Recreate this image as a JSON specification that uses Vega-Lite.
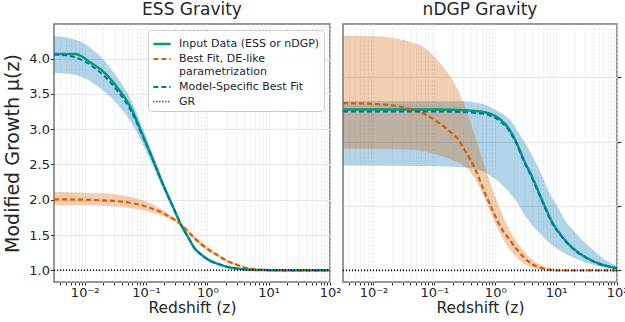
{
  "$schema": "https://vega.github.io/schema/vega-lite/v6.json",
  "padding": {"left": 3, "top": 0, "right": 0, "bottom": 5},
  "config": {
    "font": "DejaVu Sans",
    "view": {"stroke": "#777777", "strokeWidth": 1.5},
    "axis": {"labelFont": "DejaVu Sans", "titleFont": "DejaVu Sans", "labelFontSize": 13, "titleFontSize": 15.5, "labelColor": "#262626", "titleColor": "#262626", "tickColor": "#333333", "tickWidth": 1, "gridColor": "#e6e6e6", "domain": false, "titleFontWeight": "normal"},
    "title": {"fontSize": 17, "fontWeight": "normal", "color": "#262626", "offset": 5, "font": "DejaVu Sans"},
    "legend": {"labelFont": "DejaVu Sans"}
  },
  "datasets": {
    "essLines": [
      {"z": 0.00316, "mu": 4.065, "s": "Input Data (ESS or nDGP)"},
      {"z": 0.0069, "mu": 4.065, "s": "Input Data (ESS or nDGP)"},
      {"z": 0.0126, "mu": 3.94, "s": "Input Data (ESS or nDGP)"},
      {"z": 0.021, "mu": 3.80, "s": "Input Data (ESS or nDGP)"},
      {"z": 0.0344, "mu": 3.584, "s": "Input Data (ESS or nDGP)"},
      {"z": 0.0568, "mu": 3.30, "s": "Input Data (ESS or nDGP)"},
      {"z": 0.085, "mu": 2.95, "s": "Input Data (ESS or nDGP)"},
      {"z": 0.12, "mu": 2.64, "s": "Input Data (ESS or nDGP)"},
      {"z": 0.2, "mu": 2.17, "s": "Input Data (ESS or nDGP)"},
      {"z": 0.28, "mu": 1.886, "s": "Input Data (ESS or nDGP)"},
      {"z": 0.37, "mu": 1.65, "s": "Input Data (ESS or nDGP)"},
      {"z": 0.5, "mu": 1.45, "s": "Input Data (ESS or nDGP)"},
      {"z": 0.61, "mu": 1.32, "s": "Input Data (ESS or nDGP)"},
      {"z": 0.8, "mu": 1.22, "s": "Input Data (ESS or nDGP)"},
      {"z": 1.146, "mu": 1.13, "s": "Input Data (ESS or nDGP)"},
      {"z": 1.5, "mu": 1.09, "s": "Input Data (ESS or nDGP)"},
      {"z": 2.14, "mu": 1.047, "s": "Input Data (ESS or nDGP)"},
      {"z": 3, "mu": 1.025, "s": "Input Data (ESS or nDGP)"},
      {"z": 4, "mu": 1.014, "s": "Input Data (ESS or nDGP)"},
      {"z": 6, "mu": 1.005, "s": "Input Data (ESS or nDGP)"},
      {"z": 10, "mu": 1.002, "s": "Input Data (ESS or nDGP)"},
      {"z": 30, "mu": 1.0, "s": "Input Data (ESS or nDGP)"},
      {"z": 100, "mu": 1.0, "s": "Input Data (ESS or nDGP)"},
      {"z": 0.00316, "mu": 2.005, "s": "Best Fit, DE-like parametrization"},
      {"z": 0.01, "mu": 2.0, "s": "Best Fit, DE-like parametrization"},
      {"z": 0.02, "mu": 1.99, "s": "Best Fit, DE-like parametrization"},
      {"z": 0.035, "mu": 1.978, "s": "Best Fit, DE-like parametrization"},
      {"z": 0.06, "mu": 1.95, "s": "Best Fit, DE-like parametrization"},
      {"z": 0.09, "mu": 1.915, "s": "Best Fit, DE-like parametrization"},
      {"z": 0.12, "mu": 1.88, "s": "Best Fit, DE-like parametrization"},
      {"z": 0.17, "mu": 1.83, "s": "Best Fit, DE-like parametrization"},
      {"z": 0.225, "mu": 1.775, "s": "Best Fit, DE-like parametrization"},
      {"z": 0.3, "mu": 1.71, "s": "Best Fit, DE-like parametrization"},
      {"z": 0.37, "mu": 1.65, "s": "Best Fit, DE-like parametrization"},
      {"z": 0.48, "mu": 1.55, "s": "Best Fit, DE-like parametrization"},
      {"z": 0.61, "mu": 1.46, "s": "Best Fit, DE-like parametrization"},
      {"z": 0.8, "mu": 1.37, "s": "Best Fit, DE-like parametrization"},
      {"z": 1.146, "mu": 1.27, "s": "Best Fit, DE-like parametrization"},
      {"z": 1.5, "mu": 1.21, "s": "Best Fit, DE-like parametrization"},
      {"z": 2.14, "mu": 1.13, "s": "Best Fit, DE-like parametrization"},
      {"z": 3, "mu": 1.08, "s": "Best Fit, DE-like parametrization"},
      {"z": 3.5, "mu": 1.057, "s": "Best Fit, DE-like parametrization"},
      {"z": 5.2, "mu": 1.02, "s": "Best Fit, DE-like parametrization"},
      {"z": 7, "mu": 1.008, "s": "Best Fit, DE-like parametrization"},
      {"z": 10, "mu": 1.003, "s": "Best Fit, DE-like parametrization"},
      {"z": 20, "mu": 1.0, "s": "Best Fit, DE-like parametrization"},
      {"z": 100, "mu": 1.0, "s": "Best Fit, DE-like parametrization"},
      {"z": 0.00316, "mu": 4.055, "s": "Model-Specific Best Fit"},
      {"z": 0.005, "mu": 4.045, "s": "Model-Specific Best Fit"},
      {"z": 0.0069, "mu": 4.02, "s": "Model-Specific Best Fit"},
      {"z": 0.01, "mu": 3.96, "s": "Model-Specific Best Fit"},
      {"z": 0.0143, "mu": 3.87, "s": "Model-Specific Best Fit"},
      {"z": 0.021, "mu": 3.75, "s": "Model-Specific Best Fit"},
      {"z": 0.0344, "mu": 3.54, "s": "Model-Specific Best Fit"},
      {"z": 0.0568, "mu": 3.26, "s": "Model-Specific Best Fit"},
      {"z": 0.085, "mu": 2.93, "s": "Model-Specific Best Fit"},
      {"z": 0.12, "mu": 2.63, "s": "Model-Specific Best Fit"},
      {"z": 0.2, "mu": 2.165, "s": "Model-Specific Best Fit"},
      {"z": 0.28, "mu": 1.88, "s": "Model-Specific Best Fit"},
      {"z": 0.37, "mu": 1.65, "s": "Model-Specific Best Fit"},
      {"z": 0.5, "mu": 1.45, "s": "Model-Specific Best Fit"},
      {"z": 0.61, "mu": 1.32, "s": "Model-Specific Best Fit"},
      {"z": 0.8, "mu": 1.22, "s": "Model-Specific Best Fit"},
      {"z": 1.146, "mu": 1.13, "s": "Model-Specific Best Fit"},
      {"z": 1.5, "mu": 1.09, "s": "Model-Specific Best Fit"},
      {"z": 2.14, "mu": 1.047, "s": "Model-Specific Best Fit"},
      {"z": 3, "mu": 1.025, "s": "Model-Specific Best Fit"},
      {"z": 4, "mu": 1.014, "s": "Model-Specific Best Fit"},
      {"z": 6, "mu": 1.005, "s": "Model-Specific Best Fit"},
      {"z": 10, "mu": 1.002, "s": "Model-Specific Best Fit"},
      {"z": 30, "mu": 1.0, "s": "Model-Specific Best Fit"},
      {"z": 100, "mu": 1.0, "s": "Model-Specific Best Fit"},
      {"z": 0.00316, "mu": 1.0, "s": "GR"},
      {"z": 100, "mu": 1.0, "s": "GR"}
    ],
    "essBands": [
      {"z": 0.00316, "lo": 3.80, "hi": 4.32, "b": "blue"},
      {"z": 0.005, "lo": 3.79, "hi": 4.30, "b": "blue"},
      {"z": 0.0069, "lo": 3.77, "hi": 4.27, "b": "blue"},
      {"z": 0.01, "lo": 3.72, "hi": 4.21, "b": "blue"},
      {"z": 0.0143, "lo": 3.64, "hi": 4.11, "b": "blue"},
      {"z": 0.021, "lo": 3.53, "hi": 3.97, "b": "blue"},
      {"z": 0.0344, "lo": 3.35, "hi": 3.73, "b": "blue"},
      {"z": 0.0568, "lo": 3.10, "hi": 3.42, "b": "blue"},
      {"z": 0.085, "lo": 2.82, "hi": 3.05, "b": "blue"},
      {"z": 0.12, "lo": 2.54, "hi": 2.72, "b": "blue"},
      {"z": 0.2, "lo": 2.11, "hi": 2.22, "b": "blue"},
      {"z": 0.28, "lo": 1.85, "hi": 1.91, "b": "blue"},
      {"z": 0.37, "lo": 1.63, "hi": 1.67, "b": "blue"},
      {"z": 0.5, "lo": 1.43, "hi": 1.47, "b": "blue"},
      {"z": 0.61, "lo": 1.30, "hi": 1.345, "b": "blue"},
      {"z": 0.8, "lo": 1.20, "hi": 1.24, "b": "blue"},
      {"z": 1.146, "lo": 1.11, "hi": 1.15, "b": "blue"},
      {"z": 1.5, "lo": 1.075, "hi": 1.105, "b": "blue"},
      {"z": 2.14, "lo": 1.037, "hi": 1.058, "b": "blue"},
      {"z": 3, "lo": 1.018, "hi": 1.032, "b": "blue"},
      {"z": 4, "lo": 1.009, "hi": 1.02, "b": "blue"},
      {"z": 6, "lo": 1.002, "hi": 1.008, "b": "blue"},
      {"z": 10, "lo": 1.0, "hi": 1.004, "b": "blue"},
      {"z": 30, "lo": 1.0, "hi": 1.0, "b": "blue"},
      {"z": 100, "lo": 1.0, "hi": 1.0, "b": "blue"},
      {"z": 0.00316, "lo": 1.925, "hi": 2.108, "b": "orange"},
      {"z": 0.01, "lo": 1.92, "hi": 2.10, "b": "orange"},
      {"z": 0.02, "lo": 1.912, "hi": 2.09, "b": "orange"},
      {"z": 0.035, "lo": 1.90, "hi": 2.07, "b": "orange"},
      {"z": 0.06, "lo": 1.875, "hi": 2.035, "b": "orange"},
      {"z": 0.09, "lo": 1.85, "hi": 1.99, "b": "orange"},
      {"z": 0.12, "lo": 1.82, "hi": 1.945, "b": "orange"},
      {"z": 0.17, "lo": 1.785, "hi": 1.88, "b": "orange"},
      {"z": 0.225, "lo": 1.74, "hi": 1.81, "b": "orange"},
      {"z": 0.3, "lo": 1.685, "hi": 1.735, "b": "orange"},
      {"z": 0.37, "lo": 1.63, "hi": 1.67, "b": "orange"},
      {"z": 0.48, "lo": 1.525, "hi": 1.575, "b": "orange"},
      {"z": 0.61, "lo": 1.43, "hi": 1.49, "b": "orange"},
      {"z": 0.8, "lo": 1.335, "hi": 1.40, "b": "orange"},
      {"z": 1.146, "lo": 1.24, "hi": 1.30, "b": "orange"},
      {"z": 1.5, "lo": 1.18, "hi": 1.225, "b": "orange"},
      {"z": 2.14, "lo": 1.11, "hi": 1.15, "b": "orange"},
      {"z": 3, "lo": 1.06, "hi": 1.09, "b": "orange"},
      {"z": 3.5, "lo": 1.045, "hi": 1.07, "b": "orange"},
      {"z": 5.2, "lo": 1.012, "hi": 1.028, "b": "orange"},
      {"z": 7, "lo": 1.003, "hi": 1.012, "b": "orange"},
      {"z": 10, "lo": 1.0, "hi": 1.004, "b": "orange"},
      {"z": 20, "lo": 1.0, "hi": 1.0, "b": "orange"},
      {"z": 100, "lo": 1.0, "hi": 1.0, "b": "orange"}
    ],
    "ndgpLines": [
      {"z": 0.00316, "mu": 1.25, "s": "Input Data (ESS or nDGP)"},
      {"z": 0.1, "mu": 1.25, "s": "Input Data (ESS or nDGP)"},
      {"z": 0.3, "mu": 1.249, "s": "Input Data (ESS or nDGP)"},
      {"z": 0.5, "mu": 1.2475, "s": "Input Data (ESS or nDGP)"},
      {"z": 0.66, "mu": 1.246, "s": "Input Data (ESS or nDGP)"},
      {"z": 1.0, "mu": 1.24, "s": "Input Data (ESS or nDGP)"},
      {"z": 1.3, "mu": 1.232, "s": "Input Data (ESS or nDGP)"},
      {"z": 1.64, "mu": 1.2215, "s": "Input Data (ESS or nDGP)"},
      {"z": 2.2, "mu": 1.20, "s": "Input Data (ESS or nDGP)"},
      {"z": 3.0, "mu": 1.17, "s": "Input Data (ESS or nDGP)"},
      {"z": 4.0, "mu": 1.146, "s": "Input Data (ESS or nDGP)"},
      {"z": 5.1, "mu": 1.123, "s": "Input Data (ESS or nDGP)"},
      {"z": 6.5, "mu": 1.10, "s": "Input Data (ESS or nDGP)"},
      {"z": 8.3, "mu": 1.078, "s": "Input Data (ESS or nDGP)"},
      {"z": 12, "mu": 1.055, "s": "Input Data (ESS or nDGP)"},
      {"z": 19.8, "mu": 1.033, "s": "Input Data (ESS or nDGP)"},
      {"z": 30, "mu": 1.021, "s": "Input Data (ESS or nDGP)"},
      {"z": 54.7, "mu": 1.0095, "s": "Input Data (ESS or nDGP)"},
      {"z": 100, "mu": 1.0036, "s": "Input Data (ESS or nDGP)"},
      {"z": 0.00316, "mu": 1.260, "s": "Best Fit, DE-like parametrization"},
      {"z": 0.0105, "mu": 1.2587, "s": "Best Fit, DE-like parametrization"},
      {"z": 0.0375, "mu": 1.2516, "s": "Best Fit, DE-like parametrization"},
      {"z": 0.069, "mu": 1.243, "s": "Best Fit, DE-like parametrization"},
      {"z": 0.13, "mu": 1.2267, "s": "Best Fit, DE-like parametrization"},
      {"z": 0.19, "mu": 1.214, "s": "Best Fit, DE-like parametrization"},
      {"z": 0.25, "mu": 1.2035, "s": "Best Fit, DE-like parametrization"},
      {"z": 0.31, "mu": 1.188, "s": "Best Fit, DE-like parametrization"},
      {"z": 0.38, "mu": 1.174, "s": "Best Fit, DE-like parametrization"},
      {"z": 0.46, "mu": 1.159, "s": "Best Fit, DE-like parametrization"},
      {"z": 0.55, "mu": 1.142, "s": "Best Fit, DE-like parametrization"},
      {"z": 0.66, "mu": 1.123, "s": "Best Fit, DE-like parametrization"},
      {"z": 0.8, "mu": 1.105, "s": "Best Fit, DE-like parametrization"},
      {"z": 0.97, "mu": 1.087, "s": "Best Fit, DE-like parametrization"},
      {"z": 1.25, "mu": 1.066, "s": "Best Fit, DE-like parametrization"},
      {"z": 1.64, "mu": 1.0506, "s": "Best Fit, DE-like parametrization"},
      {"z": 2.2, "mu": 1.034, "s": "Best Fit, DE-like parametrization"},
      {"z": 3.0, "mu": 1.0196, "s": "Best Fit, DE-like parametrization"},
      {"z": 4.0, "mu": 1.01, "s": "Best Fit, DE-like parametrization"},
      {"z": 5.7, "mu": 1.004, "s": "Best Fit, DE-like parametrization"},
      {"z": 8, "mu": 1.001, "s": "Best Fit, DE-like parametrization"},
      {"z": 10.8, "mu": 1.0, "s": "Best Fit, DE-like parametrization"},
      {"z": 100, "mu": 1.0, "s": "Best Fit, DE-like parametrization"},
      {"z": 0.00316, "mu": 1.247, "s": "Model-Specific Best Fit"},
      {"z": 0.1, "mu": 1.247, "s": "Model-Specific Best Fit"},
      {"z": 0.3, "mu": 1.246, "s": "Model-Specific Best Fit"},
      {"z": 0.66, "mu": 1.243, "s": "Model-Specific Best Fit"},
      {"z": 1.0, "mu": 1.237, "s": "Model-Specific Best Fit"},
      {"z": 1.3, "mu": 1.229, "s": "Model-Specific Best Fit"},
      {"z": 1.64, "mu": 1.219, "s": "Model-Specific Best Fit"},
      {"z": 2.2, "mu": 1.198, "s": "Model-Specific Best Fit"},
      {"z": 3.0, "mu": 1.168, "s": "Model-Specific Best Fit"},
      {"z": 4.0, "mu": 1.144, "s": "Model-Specific Best Fit"},
      {"z": 5.1, "mu": 1.121, "s": "Model-Specific Best Fit"},
      {"z": 6.5, "mu": 1.098, "s": "Model-Specific Best Fit"},
      {"z": 8.3, "mu": 1.076, "s": "Model-Specific Best Fit"},
      {"z": 12, "mu": 1.054, "s": "Model-Specific Best Fit"},
      {"z": 19.8, "mu": 1.032, "s": "Model-Specific Best Fit"},
      {"z": 30, "mu": 1.0205, "s": "Model-Specific Best Fit"},
      {"z": 54.7, "mu": 1.0092, "s": "Model-Specific Best Fit"},
      {"z": 100, "mu": 1.0035, "s": "Model-Specific Best Fit"},
      {"z": 0.00316, "mu": 1.0, "s": "GR"},
      {"z": 100, "mu": 1.0, "s": "GR"}
    ],
    "ndgpBands": [
      {"z": 0.00316, "lo": 1.163, "hi": 1.263, "b": "blue"},
      {"z": 0.13, "lo": 1.162, "hi": 1.263, "b": "blue"},
      {"z": 0.3, "lo": 1.16, "hi": 1.263, "b": "blue"},
      {"z": 0.46, "lo": 1.158, "hi": 1.261, "b": "blue"},
      {"z": 0.66, "lo": 1.153, "hi": 1.258, "b": "blue"},
      {"z": 0.87, "lo": 1.146, "hi": 1.253, "b": "blue"},
      {"z": 1.2, "lo": 1.136, "hi": 1.246, "b": "blue"},
      {"z": 1.64, "lo": 1.123, "hi": 1.237, "b": "blue"},
      {"z": 2.3, "lo": 1.105, "hi": 1.218, "b": "blue"},
      {"z": 3.0, "lo": 1.087, "hi": 1.200, "b": "blue"},
      {"z": 3.5, "lo": 1.078, "hi": 1.190, "b": "blue"},
      {"z": 4.5, "lo": 1.065, "hi": 1.170, "b": "blue"},
      {"z": 5.7, "lo": 1.056, "hi": 1.150, "b": "blue"},
      {"z": 7.5, "lo": 1.044, "hi": 1.123, "b": "blue"},
      {"z": 10.8, "lo": 1.0326, "hi": 1.097, "b": "blue"},
      {"z": 14, "lo": 1.026, "hi": 1.078, "b": "blue"},
      {"z": 19.8, "lo": 1.0196, "hi": 1.061, "b": "blue"},
      {"z": 27, "lo": 1.014, "hi": 1.047, "b": "blue"},
      {"z": 37.5, "lo": 1.010, "hi": 1.035, "b": "blue"},
      {"z": 60, "lo": 1.005, "hi": 1.018, "b": "blue"},
      {"z": 100, "lo": 1.002, "hi": 1.0067, "b": "blue"},
      {"z": 0.00316, "lo": 1.1895, "hi": 1.365, "b": "orange"},
      {"z": 0.0105, "lo": 1.189, "hi": 1.364, "b": "orange"},
      {"z": 0.0375, "lo": 1.188, "hi": 1.356, "b": "orange"},
      {"z": 0.069, "lo": 1.185, "hi": 1.346, "b": "orange"},
      {"z": 0.13, "lo": 1.178, "hi": 1.320, "b": "orange"},
      {"z": 0.19, "lo": 1.172, "hi": 1.299, "b": "orange"},
      {"z": 0.28, "lo": 1.165, "hi": 1.268, "b": "orange"},
      {"z": 0.35, "lo": 1.158, "hi": 1.245, "b": "orange"},
      {"z": 0.41, "lo": 1.15, "hi": 1.225, "b": "orange"},
      {"z": 0.5, "lo": 1.138, "hi": 1.20, "b": "orange"},
      {"z": 0.6, "lo": 1.122, "hi": 1.175, "b": "orange"},
      {"z": 0.77, "lo": 1.098, "hi": 1.145, "b": "orange"},
      {"z": 0.87, "lo": 1.086, "hi": 1.13, "b": "orange"},
      {"z": 1.1, "lo": 1.065, "hi": 1.105, "b": "orange"},
      {"z": 1.41, "lo": 1.045, "hi": 1.08, "b": "orange"},
      {"z": 2.0, "lo": 1.025, "hi": 1.052, "b": "orange"},
      {"z": 2.7, "lo": 1.013, "hi": 1.035, "b": "orange"},
      {"z": 3.9, "lo": 1.005, "hi": 1.018, "b": "orange"},
      {"z": 6.4, "lo": 1.001, "hi": 1.006, "b": "orange"},
      {"z": 10, "lo": 1.0, "hi": 1.002, "b": "orange"},
      {"z": 17, "lo": 1.0, "hi": 1.0, "b": "orange"},
      {"z": 100, "lo": 1.0, "hi": 1.0, "b": "orange"}
    ]
  },
  "spacing": 13,
  "bounds": "flush",
  "resolve": {
    "scale": {"color": "independent", "strokeDash": "independent", "strokeWidth": "independent", "fill": "independent"},
    "legend": {"color": "independent", "strokeDash": "independent", "strokeWidth": "independent"}
  },
  "hconcat": [
    {
      "width": 276,
      "height": 258,
      "title": "ESS Gravity",
      "layer": [
        {
          "data": {"name": "essBands"},
          "mark": {"type": "area", "interpolate": "monotone", "fillOpacity": 0.3},
          "encoding": {
            "x": {"field": "z", "type": "quantitative", "scale": {"type": "log", "domain": [0.00316, 100], "nice": false},
              "axis": {"title": "Redshift (z)", "values": [0.004,0.005,0.006,0.007,0.008,0.009,0.01,0.02,0.03,0.04,0.05,0.06,0.07,0.08,0.09,0.1,0.2,0.3,0.4,0.5,0.6,0.7,0.8,0.9,1,2,3,4,5,6,7,8,9,10,20,30,40,50,60,70,80,90,100],
                "labelExpr": "datum.value == 0.01 ? '10⁻²' : datum.value == 0.1 ? '10⁻¹' : datum.value == 1 ? '10⁰' : datum.value == 10 ? '10¹' : datum.value == 100 ? '10²' : ''",
                "labelOverlap": false, "labelFlush": false, "tickSize": 3, "labelPadding": 1, "titlePadding": 1, "grid": true, "gridDash": [2, 2]}},
            "y": {"field": "lo", "type": "quantitative", "scale": {"domain": [0.834, 4.49], "nice": false, "zero": false},
              "axis": {"title": "Modified Growth μ(z)", "titleFontSize": 19, "values": [1, 1.5, 2, 2.5, 3, 3.5, 4], "format": ".1f", "tickSize": 3.5, "labelPadding": 1, "titlePadding": 6, "grid": true}},
            "y2": {"field": "hi"},
            "fill": {"field": "b", "type": "nominal", "scale": {"domain": ["blue", "orange"], "range": ["#0072B2", "#D55E00"]}, "legend": null}
          }
        },
        {
          "data": {"name": "essLines"},
          "mark": {"type": "line", "interpolate": "monotone"},
          "encoding": {
            "x": {"field": "z", "type": "quantitative"},
            "y": {"field": "mu", "type": "quantitative"},
            "color": {"field": "s", "type": "nominal",
              "scale": {"domain": ["Input Data (ESS or nDGP)", "Best Fit, DE-like parametrization", "Model-Specific Best Fit", "GR"], "range": ["#009E73", "#D55E00", "#0072B2", "#000000"]},
              "legend": {"orient": "top-right", "offset": 6, "title": null, "symbolType": "stroke", "symbolSize": 300, "labelFontSize": 11, "labelColor": "#262626", "labelLimit": 300, "labelOffset": 7,
                "labelExpr": "datum.label == 'Best Fit, DE-like parametrization' ? ['Best Fit, DE-like', ' parametrization'] : datum.label",
                "strokeColor": "#cccccc", "fillColor": "rgba(255,255,255,0.85)", "padding": 4, "rowPadding": 0, "cornerRadius": 3}},
            "strokeDash": {"field": "s", "type": "nominal",
              "scale": {"domain": ["Input Data (ESS or nDGP)", "Best Fit, DE-like parametrization", "Model-Specific Best Fit", "GR"], "range": [[1, 0], [5, 3], [5, 3], [1, 2]]}},
            "strokeWidth": {"field": "s", "type": "nominal",
              "scale": {"domain": ["Input Data (ESS or nDGP)", "Best Fit, DE-like parametrization", "Model-Specific Best Fit", "GR"], "range": [2.5, 1.6, 1.6, 1.1]}}
          }
        }
      ]
    },
    {
      "width": 274,
      "height": 258,
      "title": "nDGP Gravity",
      "layer": [
        {
          "data": {"name": "ndgpBands"},
          "mark": {"type": "area", "interpolate": "monotone", "fillOpacity": 0.3},
          "encoding": {
            "x": {"field": "z", "type": "quantitative", "scale": {"type": "log", "domain": [0.00316, 100], "nice": false},
              "axis": {"title": "Redshift (z)", "values": [0.004,0.005,0.006,0.007,0.008,0.009,0.01,0.02,0.03,0.04,0.05,0.06,0.07,0.08,0.09,0.1,0.2,0.3,0.4,0.5,0.6,0.7,0.8,0.9,1,2,3,4,5,6,7,8,9,10,20,30,40,50,60,70,80,90,100],
                "labelExpr": "datum.value == 0.01 ? '10⁻²' : datum.value == 0.1 ? '10⁻¹' : datum.value == 1 ? '10⁰' : datum.value == 10 ? '10¹' : datum.value == 100 ? '10²' : ''",
                "labelOverlap": false, "labelFlush": false, "tickSize": 3, "labelPadding": 1, "titlePadding": 1, "grid": true, "gridDash": [2, 2]}},
            "y": {"field": "lo", "type": "quantitative", "scale": {"domain": [0.982, 1.383], "nice": false, "zero": false},
              "axis": {"orient": "right", "title": null, "labels": false, "ticks": true, "values": [1, 1.05, 1.1, 1.15, 1.2, 1.25, 1.3, 1.35], "tickSize": 4, "tickColor": "#333333", "tickWidth": 1.2, "grid": true}},
            "y2": {"field": "hi"},
            "fill": {"field": "b", "type": "nominal", "scale": {"domain": ["blue", "orange"], "range": ["#0072B2", "#D55E00"]}, "legend": null}
          }
        },
        {
          "data": {"name": "ndgpLines"},
          "mark": {"type": "line", "interpolate": "monotone"},
          "encoding": {
            "x": {"field": "z", "type": "quantitative"},
            "y": {"field": "mu", "type": "quantitative"},
            "color": {"field": "s", "type": "nominal",
              "scale": {"domain": ["Input Data (ESS or nDGP)", "Best Fit, DE-like parametrization", "Model-Specific Best Fit", "GR"], "range": ["#009E73", "#D55E00", "#0072B2", "#000000"]}, "legend": null},
            "strokeDash": {"field": "s", "type": "nominal",
              "scale": {"domain": ["Input Data (ESS or nDGP)", "Best Fit, DE-like parametrization", "Model-Specific Best Fit", "GR"], "range": [[1, 0], [5, 3], [5, 3], [1, 2]]}, "legend": null},
            "strokeWidth": {"field": "s", "type": "nominal",
              "scale": {"domain": ["Input Data (ESS or nDGP)", "Best Fit, DE-like parametrization", "Model-Specific Best Fit", "GR"], "range": [2.5, 1.6, 1.6, 1.1]}, "legend": null}
          }
        }
      ]
    }
  ]
}
